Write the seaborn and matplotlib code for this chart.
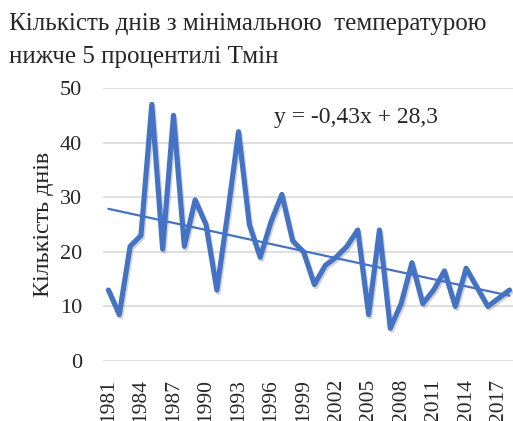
import matplotlib
matplotlib.use("Agg")
import matplotlib.pyplot as plt
import matplotlib.patheffects as pe
import seaborn as sns
import numpy as np

# days per year with Tmin below 5th percentile
years = list(range(1981, 2019))
days = [13, 8.5, 21, 23, 47, 20.5, 45, 21, 29.5, 25,
        13, 27, 42, 25, 19, 25.5, 30.5, 22, 20, 14,
        17.5, 19, 21, 24, 8.5, 24, 6, 10.5, 18, 10.5,
        13, 16.5, 10, 17, 13.5, 10, 11.5, 13]

# linear trend as shown on the chart (x = 1..n)
trend_slope = -0.43
trend_intercept = 28.3

y_ticks = [0, 10, 20, 30, 40, 50]
title_1 = "Кількість днів з мінімальною  температурою"
title_2 = "нижче 5 процентилі Тмін"
y_label = "Кількість днів"
equation = "y = -0,43x + 28,3"

sns.set_style("white")
plt.rcParams["font.family"] = ["Liberation Serif", "DejaVu Serif"]

blue = "#4472C4"

fig = plt.figure(figsize=(5.13, 4.21), dpi=100)
ax = fig.add_axes([0.2008, 0.1425, 0.8, 0.6485])

pos = np.arange(len(years))
sns.lineplot(x=pos, y=days, ax=ax, color=blue, linewidth=3.7,
             path_effects=[pe.SimpleLineShadow(offset=(1, -1.5), shadow_color="gray", alpha=0.35),
                           pe.Normal()])

trend = trend_intercept + trend_slope * (pos + 1)
sns.lineplot(x=pos, y=trend, ax=ax, color=blue, linewidth=1.6)

ax.set_ylim(0, 50)
ax.set_xlim(-0.5, 37.36)
ax.set_yticks(y_ticks)
ax.set_xticks(pos[::3])
ax.set_xticklabels([str(y) for y in years[::3]], rotation=90)
ax.tick_params(axis="y", labelsize=16, pad=15, length=0)
ax.tick_params(axis="x", labelsize=15.5, pad=13, length=0)
ax.yaxis.grid(True, color="#D9D9D9", linewidth=1.2)
ax.set_axisbelow(True)
for s in ax.spines.values():
    s.set_visible(False)

ax.set_ylabel(y_label, fontsize=17.3)
ax.yaxis.set_label_coords(-0.12, 0.5)
ax.set_xlabel("")

fig.text(9 / 513, 1 - 30 / 421, title_1, fontsize=18, ha="left", va="baseline")
fig.text(9 / 513, 1 - 63 / 421, title_2, fontsize=18, ha="left", va="baseline")
fig.text(274 / 513, 1 - 123 / 421, equation, fontsize=17, ha="left", va="baseline")

fig.savefig("out.png", dpi=100)
